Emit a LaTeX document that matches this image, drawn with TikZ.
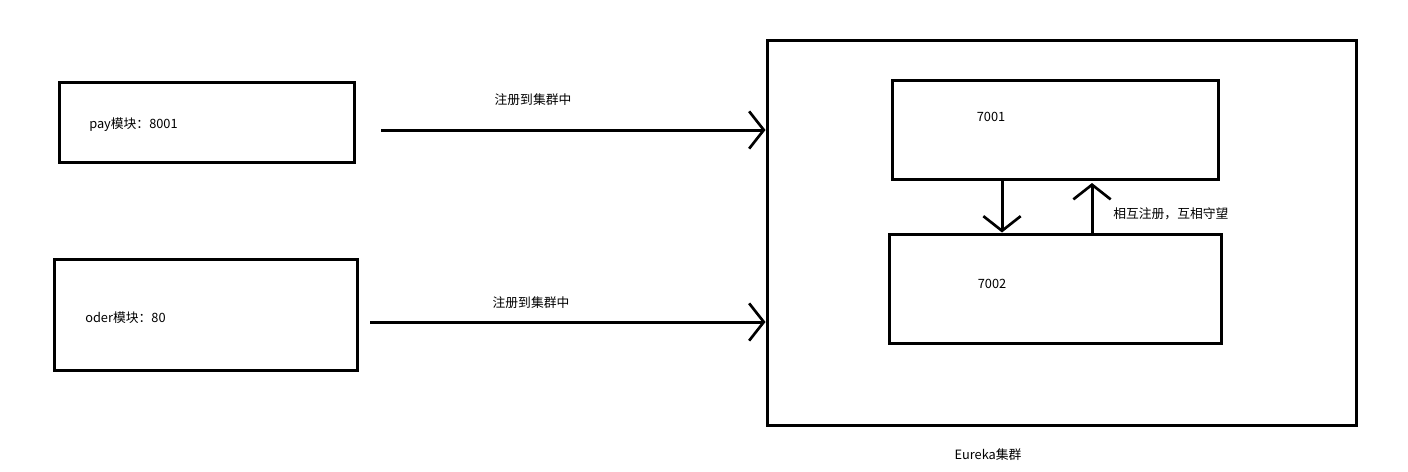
\documentclass[tikz,border=0pt]{standalone}
\usepackage{fontspec}
\setmainfont{Noto Sans CJK SC}
\usetikzlibrary{arrows.meta}
\tikzset{
  box/.style={draw=black, line width=2.25pt, inner sep=0pt, fill=none},
  lbl/.style={inner sep=0pt, font=\fontsize{9.6}{11}\selectfont, text=black},
  arr/.style={line width=2.25pt, -{Straight Barb[length=11pt,width=28pt,line width=2pt]}},
}
\begin{document}
\begin{tikzpicture}[x=0.75pt,y=-0.75pt]
\useasboundingbox[fill=white] (0,0) rectangle (1408,471);
% boxes
\node[box, minimum width=221.25pt, minimum height=60pt] (pay) at (206.5,122) {};
\node[box, minimum width=227.25pt, minimum height=83.25pt] (oder) at (205.5,314.5) {};
\node[box, minimum width=441.75pt, minimum height=288.75pt] (eureka) at (1061.5,232.5) {};
\node[box, minimum width=244.5pt, minimum height=74.25pt] (n7001) at (1055,129.5) {};
\node[box, minimum width=249pt, minimum height=81.75pt] (n7002) at (1055,288.5) {};
% labels
\node[lbl, anchor=west] (payl) at (89,125) {pay模块：8001};
\node[lbl, anchor=west] (oderl) at (85,318) {oder模块：80};
\node[lbl] (l7001) at (991,117) {7001};
\node[lbl] (l7002) at (992,284) {7002};
\node[lbl] (reg1) at (533,100) {注册到集群中};
\node[lbl] (reg2) at (531,303) {注册到集群中};
\node[lbl, anchor=west] (mutual) at (1113,214) {相互注册，互相守望};
\node[lbl] (eurekal) at (988,455) {Eureka集群};
% connectors
\coordinate (a1) at (381,130);
\coordinate (a2) at (370,322);
\draw[arr] (a1) -- (a1 -| eureka.west);
\draw[arr] (a2) -- (a2 -| eureka.west);
\coordinate (d1) at ([xshift=-39.75pt]n7001.south);
\draw[arr] (d1) -- (d1 |- n7002.north);
\coordinate (u1) at ([xshift=27.75pt]n7002.north);
\coordinate (u2) at (1092,183);
\draw[arr] (u1) -- (u2);
\end{tikzpicture}
\end{document}
